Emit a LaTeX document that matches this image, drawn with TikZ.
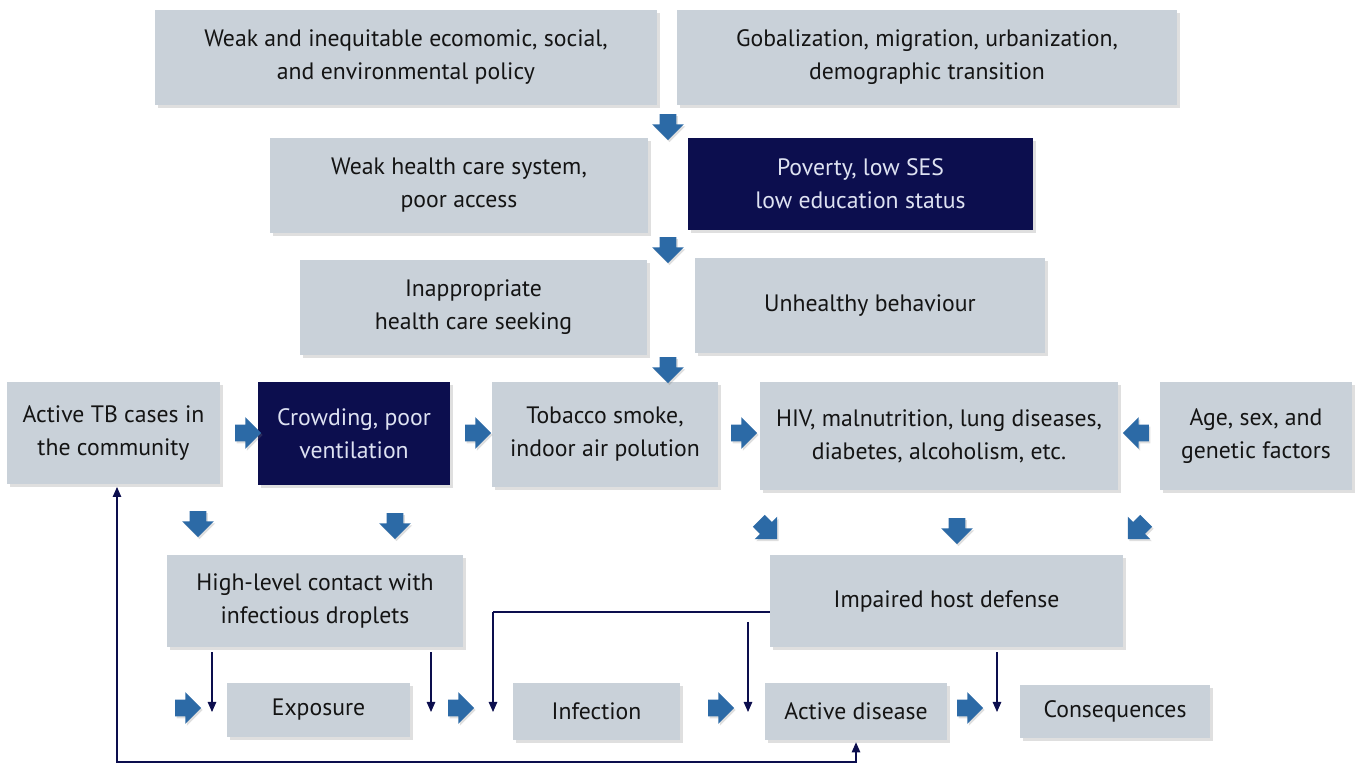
\documentclass[tikz,border=0pt]{standalone}
\usepackage{fontspec}
\setmainfont{PT Sans}
\usetikzlibrary{shapes.arrows,arrows.meta,shadows}
\definecolor{boxgray}{RGB}{201,209,217}
\definecolor{navy}{RGB}{12,14,78}
\definecolor{arrblue}{RGB}{44,106,166}
\definecolor{paletxt}{RGB}{222,226,242}

\begin{document}
\begin{tikzpicture}[
    box/.style={fill=boxgray, text=black!92, align=center, inner sep=0pt,
        font=\fontsize{13.5}{18.8}\selectfont,
        drop shadow={shadow xshift=0.06cm, shadow yshift=-0.07cm, opacity=0.25}},
    darkbox/.style={box, fill=navy, text=paletxt},
    sz/.style 2 args={minimum width=#1cm, minimum height=#2cm},
    blk/.style={single arrow, fill=arrblue, inner xsep=0pt, inner ysep=0.16cm,
        minimum height=0.52cm, single arrow head extend=0.15cm,
        single arrow head indent=0pt,
        drop shadow={shadow xshift=0.03cm, shadow yshift=-0.04cm, opacity=0.25}},
    thin/.style={draw=navy, line width=0.6pt, -{Triangle[length=0.2cm,width=0.17cm]}}
]
    \useasboundingbox (0,0) rectangle (27.22,15.3);

    % Top rows: structural determinants
    \node[box, sz={10.04}{1.9}] (pol) at (8.12,14.15) {Weak and inequitable ecomomic, social,\\and environmental policy};
    \node[box, sz={10.0}{1.9}] (glob) at (18.54,14.15) {Gobalization, migration, urbanization,\\demographic transition};
    \node[box, sz={7.56}{1.9}] (hcs) at (9.18,11.59) {Weak health care system,\\poor access};
    \node[darkbox, sz={6.9}{1.84}] (pov) at (17.21,11.62) {Poverty, low SES\\low education status};
    \node[box, sz={6.94}{1.9}] (seek) at (9.47,9.15) {Inappropriate\\health care seeking};
    \node[box, sz={7.0}{1.9}] (behav) at (17.4,9.19) {Unhealthy behaviour};

    % Middle row: risk factors
    \node[box, sz={4.26}{2.04}] (tbcases) at (2.27,6.64) {Active TB cases in\\the community};
    \node[darkbox, sz={3.84}{2.06}] (crowd) at (7.08,6.63) {Crowding, poor\\ventilation};
    \node[box, sz={4.52}{2.1}] (smoke) at (12.1,6.61) {Tobacco smoke,\\indoor air polution};
    \node[box, sz={7.16}{2.16}] (hiv) at (18.78,6.58) {HIV, malnutrition, lung diseases,\\diabetes, alcoholism, etc.};
    \node[box, sz={3.84}{2.16}] (agesex) at (25.12,6.58) {Age, sex, and\\genetic factors};

    % Mechanisms
    \node[box, sz={5.92}{1.84}] (contact) at (6.3,3.28) {High-level contact with\\infectious droplets};
    \node[box, sz={7.06}{1.84}] (hostdef) at (18.93,3.28) {Impaired host defense};

    % Stages
    \node[box, sz={3.66}{1.08}] (expo) at (6.37,1.1) {Exposure};
    \node[box, sz={3.34}{1.14}] (infect) at (11.93,1.07) {Infection};
    \node[box, sz={3.64}{1.14}] (actdis) at (17.12,1.07) {Active disease};
    \node[box, sz={3.8}{1.06}] (conseq) at (22.3,1.07) {Consequences};

    % Block arrows
    \node[blk, rotate=-90] (d1) at (13.36,12.84) {};
    \node[blk, rotate=-90] (d2) at (13.36,10.38) {};
    \node[blk, rotate=-90] (d3) at (13.36,7.98) {};
    \node[blk] (r1) at (4.88,6.64) {};
    \node[blk] (r2) at (9.48,6.64) {};
    \node[blk] (r3) at (14.8,6.64) {};
    \node[blk, rotate=180] (l4) at (22.8,6.64) {};
    \node[blk, rotate=-90] (d4) at (3.96,4.9) {};
    \node[blk, rotate=-90] (d5) at (7.9,4.86) {};
    \node[blk, rotate=-45] (d6) at (15.3,4.76) {};
    \node[blk, rotate=-90] (d7) at (19.14,4.76) {};
    \node[blk, rotate=-135] (d8) at (22.8,4.76) {};
    \node[blk] (s1) at (3.68,1.14) {};
    \node[blk] (s2) at (9.14,1.14) {};
    \node[blk] (s3) at (14.34,1.14) {};
    \node[blk] (s4) at (19.32,1.14) {};

    % Thin arrows into the stages
    \coordinate (e1) at (4.24,1.06);
    \coordinate (e2) at (8.62,1.06);
    \coordinate (e3) at (9.86,1.06);
    \coordinate (e4) at (14.96,1.06);
    \coordinate (e5) at (19.94,1.06);
    \coordinate (e4top) at (14.96,2.86);
    \draw[thin] ([yshift=-0.1cm]contact.south -| e1) -- (e1);
    \draw[thin] ([yshift=-0.1cm]contact.south -| e2) -- (e2);
    \draw[thin, -] ([yshift=-0.22cm]hostdef.west) -- ([yshift=-0.22cm]hostdef.west -| e3);
    \draw[thin] ([yshift=-0.22cm]hostdef.west -| e3) -- (e3);
    \draw[thin] (e4top) -- (e4);
    \draw[thin] ([yshift=-0.1cm]hostdef.south -| e5) -- (e5);

    % Feedback loop
    \coordinate (fb) at (2.34,5.56);
    \draw[thin, {Triangle[length=0.2cm,width=0.17cm]}-{Triangle[length=0.2cm,width=0.17cm]}]
        (fb) -- (fb |- 0,0.06) -| ([yshift=-0.04cm]actdis.south);
\end{tikzpicture}
\end{document}
